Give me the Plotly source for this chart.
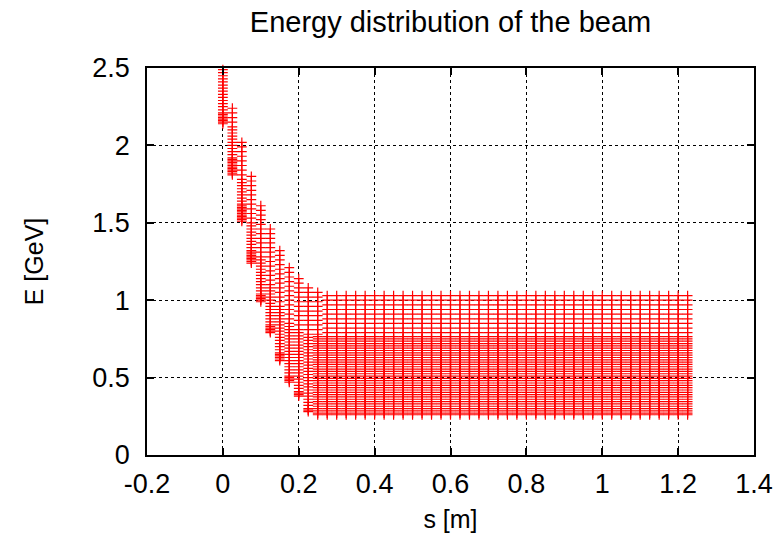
import plotly.graph_objects as go

# ---- data ----
# transitional columns (s in m, E in GeV for each tracked particle)
trans_s = [0.0, 0.025, 0.05, 0.075, 0.1, 0.125, 0.15, 0.175, 0.2, 0.225, 0.25]
trans_E = [
    [2.49, 2.47, 2.45, 2.43, 2.41, 2.39, 2.37, 2.35, 2.33, 2.31, 2.29, 2.27, 2.25, 2.23,
     2.21, 2.20, 2.19, 2.18, 2.17, 2.16, 2.15, 2.14],
    [2.24, 2.21, 2.18, 2.15, 2.12, 2.10, 2.08, 2.06, 2.04, 2.02, 2.00, 1.98, 1.96, 1.94,
     1.92, 1.91, 1.90, 1.89, 1.88, 1.87, 1.86, 1.85, 1.84, 1.83, 1.82, 1.81],
    [2.02, 1.99, 1.96, 1.93, 1.90, 1.87, 1.84, 1.81, 1.78, 1.76, 1.74, 1.72, 1.70, 1.68,
     1.66, 1.64, 1.62, 1.61, 1.60, 1.59, 1.58, 1.57, 1.56, 1.55, 1.54, 1.53, 1.52, 1.51],
    [1.80, 1.77, 1.74, 1.71, 1.68, 1.65, 1.62, 1.59, 1.56, 1.53, 1.50, 1.48, 1.46, 1.44,
     1.42, 1.40, 1.38, 1.36, 1.34, 1.32, 1.31, 1.30, 1.29, 1.28, 1.27, 1.26, 1.25, 1.24],
    [1.61, 1.58, 1.55, 1.52, 1.49, 1.46, 1.43, 1.40, 1.37, 1.34, 1.31, 1.28, 1.26, 1.24,
     1.22, 1.20, 1.18, 1.16, 1.14, 1.12, 1.10, 1.08, 1.06, 1.04, 1.03, 1.02, 1.01, 1.00, 0.99],
    [1.46, 1.43, 1.40, 1.37, 1.34, 1.31, 1.28, 1.25, 1.22, 1.19, 1.16, 1.13, 1.10, 1.08,
     1.06, 1.04, 1.02, 1.00, 0.98, 0.96, 0.94, 0.92, 0.90, 0.88, 0.86, 0.84, 0.83, 0.82,
     0.81, 0.80, 0.79],
    [1.32, 1.29, 1.26, 1.23, 1.20, 1.17, 1.14, 1.11, 1.08, 1.05, 1.02, 0.99, 0.96, 0.94,
     0.92, 0.90, 0.88, 0.86, 0.84, 0.82, 0.80, 0.78, 0.76, 0.74, 0.72, 0.70, 0.68, 0.66,
     0.65, 0.64, 0.63, 0.62, 0.61],
    [1.21, 1.18, 1.15, 1.12, 1.09, 1.06, 1.03, 1.00, 0.97, 0.94, 0.91, 0.88, 0.85, 0.83,
     0.81, 0.79, 0.77, 0.75, 0.73, 0.71, 0.69, 0.67, 0.65, 0.63, 0.61, 0.59, 0.57, 0.55,
     0.53, 0.51, 0.50, 0.49, 0.48, 0.47],
    [1.14, 1.11, 1.08, 1.05, 1.02, 0.99, 0.96, 0.93, 0.90, 0.87, 0.84, 0.81, 0.79, 0.77,
     0.75, 0.73, 0.71, 0.69, 0.67, 0.65, 0.63, 0.61, 0.59, 0.57, 0.55, 0.53, 0.51, 0.49,
     0.47, 0.45, 0.43, 0.41, 0.40, 0.39, 0.38],
    [1.08, 1.05, 1.02, 0.99, 0.96, 0.93, 0.90, 0.87, 0.84, 0.81, 0.78, 0.76, 0.74, 0.72,
     0.70, 0.68, 0.66, 0.64, 0.62, 0.60, 0.58, 0.56, 0.54, 0.52, 0.50, 0.48, 0.46, 0.44,
     0.42, 0.40, 0.38, 0.36, 0.34, 0.32, 0.30, 0.29, 0.28],
    [1.05, 1.02, 0.99, 0.96, 0.93, 0.90, 0.87, 0.84, 0.81, 0.78, 0.765, 0.75, 0.735, 0.72,
     0.705, 0.69, 0.675, 0.66, 0.645, 0.63, 0.615, 0.60, 0.585, 0.57, 0.555, 0.54, 0.525,
     0.51, 0.495, 0.48, 0.465, 0.45, 0.435, 0.42, 0.405, 0.39, 0.375, 0.36, 0.345, 0.33,
     0.315, 0.30, 0.285, 0.27, 0.26],
]

# steady-state columns: all share the same energy spread
steady_s = [0.275, 0.3, 0.325, 0.35, 0.375, 0.4, 0.425, 0.45, 0.475, 0.5, 0.525, 0.55,
            0.575, 0.6, 0.625, 0.65, 0.675, 0.7, 0.725, 0.75, 0.775, 0.8, 0.825, 0.85,
            0.875, 0.9, 0.925, 0.95, 0.975, 1.0, 1.025, 1.05, 1.075, 1.1, 1.125, 1.15,
            1.175, 1.2, 1.225]
steady_E = [1.03, 1.00, 0.97, 0.94, 0.91, 0.88, 0.85, 0.82, 0.79, 0.765, 0.75, 0.735,
            0.72, 0.705, 0.69, 0.675, 0.66, 0.645, 0.63, 0.615, 0.60, 0.585, 0.57, 0.555,
            0.54, 0.525, 0.51, 0.495, 0.48, 0.465, 0.45, 0.435, 0.42, 0.405, 0.39, 0.375,
            0.36, 0.345, 0.33, 0.315, 0.30, 0.285, 0.27, 0.26]

x_ticks = [-0.2, 0, 0.2, 0.4, 0.6, 0.8, 1, 1.2, 1.4]
x_ticklabels = ["-0.2", "0", "0.2", "0.4", "0.6", "0.8", "1", "1.2", "1.4"]
y_ticks = [0, 0.5, 1, 1.5, 2, 2.5]
y_ticklabels = ["0", "0.5", "1", "1.5", "2", "2.5"]

# ---- assemble points ----
xs, ys = [], []
for s, col in zip(trans_s, trans_E):
    for e in col:
        xs.append(s)
        ys.append(e)
for s in steady_s:
    for e in steady_E:
        xs.append(s)
        ys.append(e)

FONT = "Liberation Sans, Arial, Helvetica, sans-serif"

fig = go.Figure()
fig.add_trace(go.Scatter(
    x=xs, y=ys, mode="markers",
    marker=dict(symbol="cross-thin", size=7, color="#ff0000",
                line=dict(color="#ff0000", width=1.2)),
    cliponaxis=False, showlegend=False,
))

axis_common = dict(
    showline=True, linecolor="black", linewidth=1.5, mirror="ticks",
    ticks="inside", ticklen=7, tickwidth=1.5, tickcolor="black",
    showgrid=True, gridcolor="black", gridwidth=1, griddash="dot",
    zeroline=False, automargin=False,
    tickfont=dict(family=FONT, size=27, color="black"),
)

fig.update_xaxes(range=[-0.2, 1.4], tickvals=x_ticks, ticktext=x_ticklabels,
                 ticklabelstandoff=4,
                 title=dict(text="s [m]", font=dict(family=FONT, size=25, color="black"),
                            standoff=12),
                 **axis_common)
fig.update_yaxes(range=[0, 2.5], tickvals=y_ticks, ticktext=y_ticklabels,
                 ticklabelstandoff=10,
                 title=dict(text="E [GeV]", font=dict(family=FONT, size=25, color="black"),
                            standoff=42),
                 **axis_common)

fig.update_layout(
    width=776, height=542,
    margin=dict(l=147, r=22, t=68, b=87),
    paper_bgcolor="white", plot_bgcolor="white",
    title=dict(text="Energy distribution of the beam",
               font=dict(family=FONT, size=29, color="black"),
               x=0.5, xref="paper", xanchor="center",
               y=1 - 22 / 542, yref="container", yanchor="middle"),
)

fig.write_html("out.html", config={"displayModeBar": False},
               post_script="document.body.style.margin='0px';")
